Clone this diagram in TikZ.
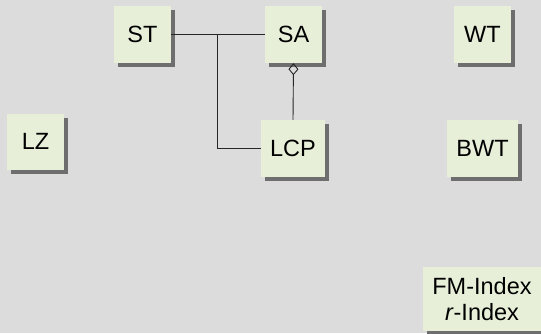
\documentclass[tikz,border=0pt]{standalone}
\usepackage{fontspec}
\setmainfont{Liberation Sans}
\usetikzlibrary{shadows,arrows.meta}
\definecolor{bgc}{HTML}{DCDCDC}
\definecolor{boxc}{HTML}{E7EFD8}
\definecolor{shc}{HTML}{6E6E6E}
\tikzset{
  box/.style={fill=boxc, minimum width=57pt, minimum height=57pt, inner xsep=9pt,
    font=\fontsize{23.5}{26.5}\selectfont,
    drop shadow={shadow xshift=4pt, shadow yshift=-4pt, fill=shc, opacity=1}},
  conn/.style={draw=black!85, line width=0.9pt}
}
\begin{document}
\begin{tikzpicture}[x=1pt,y=-1pt]
\fill[bgc] (0,0) rectangle (541,333);
\useasboundingbox (0,0) rectangle (541,333);
\node[box] (ST) at (142.5,34.5) {ST};
\node[box] (SA) at (293.5,34.5) {SA};
\node[box] (LCP) at (293,148.5) {LCP};
\node[box] (WT) at (482.5,34.5) {WT};
\node[box] (BWT) at (482.5,148.5) {BWT};
\node[box, minimum height=56pt] (LZ) at (35.5,141.5) {LZ};
\node[box, minimum width=119pt, minimum height=64pt, align=center] (FM) at (482,299) {FM-Index\\\textit{r}-Index};
\coordinate (j) at (217.7,34.5);
\draw[conn] (ST.east) -- (SA.west);
\draw[conn] (j) |- (LCP.west);
\draw[conn, -{Diamond[open,length=12pt,width=10pt]}] (LCP.north) -- (SA.south);
\end{tikzpicture}
\end{document}
